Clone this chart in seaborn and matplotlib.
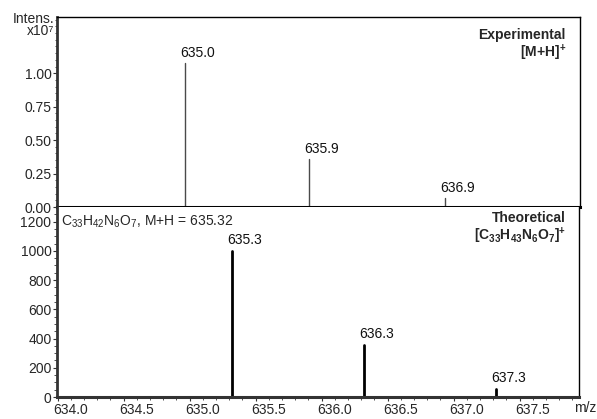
import numpy as np
import pandas as pd
import matplotlib
matplotlib.use("Agg")
import matplotlib.pyplot as plt
import matplotlib.transforms as mtransforms
from matplotlib.ticker import MultipleLocator, FormatStrFormatter
import seaborn as sns

# Experimental spectrum (intensity in units of 1e7)
exp_mz = [634.96, 635.90, 636.93]
exp_int = [1.077, 0.358, 0.07]

# Theoretical isotope pattern (normalised to 1000)
theo_mz = [635.32, 636.32, 637.32]
theo_int = [1000, 356, 57]

exp_yticks = [0.00, 0.25, 0.50, 0.75, 1.00]
theo_yticks = [0, 200, 400, 600, 800, 1000, 1200]
x_ticks = [634.0, 634.5, 635.0, 635.5, 636.0, 636.5, 637.0, 637.5]

sns.set_theme(style="ticks")
plt.rcParams["font.family"] = ["Liberation Sans", "DejaVu Sans"]
plt.rcParams["mathtext.fontset"] = "custom"
plt.rcParams["mathtext.rm"] = "Liberation Sans"
plt.rcParams["mathtext.it"] = "Liberation Sans:italic"
plt.rcParams["mathtext.bf"] = "Liberation Sans:bold"
FS = 10
plt.rcParams["font.size"] = FS


def stems(mz, inten):
    rows = []
    for i, (m, v) in enumerate(zip(mz, inten)):
        rows.append({"peak": i, "mz": m, "int": 0.0})
        rows.append({"peak": i, "mz": m, "int": v})
    return pd.DataFrame(rows)


W, H = 597, 419
fig = plt.figure(figsize=(W / 100, H / 100), dpi=100)
left, right = 57, 580
ax1 = fig.add_axes([left / W, (H - 207) / H, (right - left) / W, (207 - 17) / H])
ax2 = fig.add_axes([left / W, (H - 397) / H, (right - 1 - left) / W, (397 - 207) / H])

xlim = (633.995, 637.95)
# peak labels start a few pixels left of their stem
lbl_shift = mtransforms.ScaledTranslation(-4.5 / 100, 0, fig.dpi_scale_trans)

# --- experimental panel ---
sns.lineplot(data=stems(exp_mz, exp_int), x="mz", y="int", units="peak",
             estimator=None, sort=False, color="#4a4a4a", linewidth=1.0, ax=ax1)
for m, v in zip(exp_mz, exp_int):
    ax1.text(m, v + 0.02, f"{m:.1f}", ha="left", va="bottom", fontsize=FS, color="#111111",
             transform=ax1.transData + lbl_shift)
ax1.set_xlim(*xlim)
ax1.set_ylim(0, 1.42)
ax1.set_yticks(exp_yticks)
ax1.yaxis.set_major_formatter(FormatStrFormatter("%.2f"))
ax1.yaxis.set_minor_locator(MultipleLocator(0.05))
ax1.set_xticks([])
ax1.set_xlabel("")
ax1.set_ylabel("")
for s in ["top", "right"]:
    ax1.spines[s].set_visible(True)
    ax1.spines[s].set_linewidth(1.0)
    ax1.spines[s].set_color("black")
ax1.spines["left"].set_linewidth(2.0)
ax1.spines["left"].set_color("#333333")
ax1.spines["bottom"].set_linewidth(2.2)
ax1.spines["bottom"].set_color("black")
ax1.tick_params(axis="y", which="major", length=3, width=0.8, labelsize=FS, pad=1, color="#333333")
ax1.tick_params(axis="y", which="minor", length=1.5, width=0.6, color="#333333")
ax1.text(0.973, 0.905, "Experimental", transform=ax1.transAxes, ha="right", va="center",
         fontsize=FS, fontweight="bold")
ax1.text(0.973, 0.81, r"[M+H]$^{\mathbf{+}}$", transform=ax1.transAxes, ha="right", va="center",
         fontsize=FS, fontweight="bold")
fig.text(54 / W, 1 - 25 / H, "Intens.\nx10\u2077", ha="right", va="center", multialignment="right",
         fontsize=FS, linespacing=0.78)

# --- theoretical panel ---
sns.lineplot(data=stems(theo_mz, theo_int), x="mz", y="int", units="peak",
             estimator=None, sort=False, color="black", linewidth=2.0, ax=ax2)
for m, v in zip(theo_mz, theo_int):
    ax2.text(m, v + 25, f"{m:.1f}", ha="left", va="bottom", fontsize=FS, color="#111111",
             transform=ax2.transData + lbl_shift)
ax2.set_xlim(*xlim)
ax2.set_ylim(0, 1300)
ax2.set_yticks(theo_yticks)
ax2.yaxis.set_minor_locator(MultipleLocator(50))
ax2.set_xticks(x_ticks)
ax2.xaxis.set_major_formatter(FormatStrFormatter("%.1f"))
ax2.xaxis.set_minor_locator(MultipleLocator(0.1))
ax2.set_xlabel("")
ax2.set_ylabel("")
ax2.spines["top"].set_visible(False)
ax2.spines["right"].set_visible(True)
ax2.spines["right"].set_linewidth(1.0)
ax2.spines["right"].set_color("black")
ax2.spines["left"].set_linewidth(2.0)
ax2.spines["left"].set_color("#333333")
ax2.spines["bottom"].set_linewidth(2.2)
ax2.spines["bottom"].set_color("#333333")
ax2.tick_params(axis="both", which="major", length=3, width=0.8, labelsize=FS, pad=1, color="#333333")
ax2.tick_params(axis="both", which="minor", length=2.5, width=0.6, color="#333333")
# x tick labels sit just to the right of their ticks
for lbl in ax2.get_xticklabels():
    lbl.set_horizontalalignment("left")
    lbl.set_transform(lbl.get_transform() + lbl_shift)
ax2.text(0.008, 0.92, r"C$_{33}$H$_{42}$N$_{6}$O$_{7}$, M+H = 635.32", transform=ax2.transAxes,
         ha="left", va="center", fontsize=FS)
ax2.text(0.975, 0.94, "Theoretical", transform=ax2.transAxes, ha="right", va="center",
         fontsize=FS, fontweight="bold")
ax2.text(0.975, 0.85, r"[C$_{\mathbf{33}}$H$_{\mathbf{43}}$N$_{\mathbf{6}}$O$_{\mathbf{7}}$]$^{\mathbf{+}}$",
         transform=ax2.transAxes, ha="right", va="center", fontsize=FS, fontweight="bold")
fig.text(585 / W, 1 - 408 / H, "m/z", ha="center", va="center", fontsize=FS)

fig.savefig("out.png", dpi=100)
